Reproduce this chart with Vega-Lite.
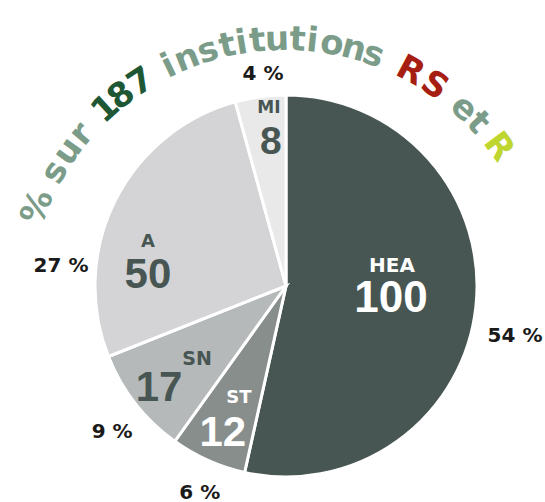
{
  "$schema": "https://vega.github.io/schema/vega-lite/v6.json",
  "width": 518,
  "height": 432,
  "autosize": {"type": "none"},
  "padding": {"left": 27, "top": 70, "right": 0, "bottom": 0},
  "background": "#ffffff",
  "config": {"view": {"stroke": null}},
  "datasets": {
    "slices": [
      {"k": 1, "name": "HEA", "n": 100, "pct": "54 %"},
      {"k": 2, "name": "ST", "n": 12, "pct": "6 %"},
      {"k": 3, "name": "SN", "n": 17, "pct": "9 %"},
      {"k": 4, "name": "A", "n": 50, "pct": "27 %"},
      {"k": 5, "name": "MI", "n": 8, "pct": "4 %"}
    ],
    "title": [
      {"ch": "%", "deg": -68.2, "part": "g"},
      {"ch": "s", "deg": -59.8, "part": "g"},
      {"ch": "u", "deg": -54.5, "part": "g"},
      {"ch": "r", "deg": -49.8, "part": "g"},
      {"ch": "1", "deg": -42.3, "part": "d"},
      {"ch": "8", "deg": -37.9, "part": "d"},
      {"ch": "7", "deg": -32.8, "part": "d"},
      {"ch": "i", "deg": -25.9, "part": "g"},
      {"ch": "n", "deg": -21.6, "part": "g"},
      {"ch": "s", "deg": -16.8, "part": "g"},
      {"ch": "t", "deg": -12.5, "part": "g"},
      {"ch": "i", "deg": -9.4, "part": "g"},
      {"ch": "t", "deg": -5.9, "part": "g"},
      {"ch": "u", "deg": -1.7, "part": "g"},
      {"ch": "t", "deg": 2.7, "part": "g"},
      {"ch": "i", "deg": 5.9, "part": "g"},
      {"ch": "o", "deg": 10.2, "part": "g"},
      {"ch": "n", "deg": 15.0, "part": "g"},
      {"ch": "s", "deg": 19.4, "part": "g"},
      {"ch": "R", "deg": 28.1, "part": "r"},
      {"ch": "S", "deg": 34.1, "part": "r"},
      {"ch": "e", "deg": 42.2, "part": "g"},
      {"ch": "t", "deg": 46.5, "part": "g"},
      {"ch": "R", "deg": 53.3, "part": "y"}
    ]
  },
  "resolve": {"scale": {"theta": "independent", "color": "independent", "angle": "independent"}},
  "layer": [
    {
      "data": {"name": "slices"},
      "mark": {"type": "arc", "outerRadius": 191, "stroke": "#ffffff", "strokeWidth": 3},
      "encoding": {
        "theta": {"field": "n", "type": "quantitative", "stack": true},
        "order": {"field": "k"},
        "color": {"field": "name", "type": "nominal", "legend": null,
          "scale": {"domain": ["HEA", "ST", "SN", "A", "MI"], "range": ["#485653", "#878e8c", "#b5b9ba", "#d4d4d6", "#e9e9e9"]}}
      }
    },
    {
      "data": {"name": "slices"},
      "mark": {"type": "text", "radius": 105, "xOffset": 1.6, "yOffset": -31.5, "font": "DejaVu Sans", "fontWeight": "bold", "fontSize": 20, "color": "#ffffff", "align": "center", "baseline": "middle"},
      "encoding": {"theta": {"field": "n", "type": "quantitative", "stack": true}, "order": {"field": "k"},
        "text": {"condition": {"test": "datum.name === 'HEA'", "field": "name"}, "value": ""}}
    },
    {
      "data": {"name": "slices"},
      "mark": {"type": "text", "radius": 105, "xOffset": 0.6, "yOffset": 1.5, "font": "Liberation Sans Narrow, Liberation Sans, sans-serif", "fontWeight": "bold", "fontSize": 44, "color": "#ffffff", "align": "center", "baseline": "middle"},
      "encoding": {"theta": {"field": "n", "type": "quantitative", "stack": true}, "order": {"field": "k"},
        "text": {"condition": {"test": "datum.name === 'HEA'", "field": "n"}, "value": ""}}
    },
    {
      "data": {"name": "slices"},
      "mark": {"type": "text", "radius": 230, "xOffset": 0.4, "yOffset": 24.8, "font": "DejaVu Sans", "fontWeight": "bold", "fontSize": 20, "color": "#1a1a1a", "align": "center", "baseline": "middle"},
      "encoding": {"theta": {"field": "n", "type": "quantitative", "stack": true}, "order": {"field": "k"},
        "text": {"condition": {"test": "datum.name === 'HEA'", "field": "pct"}, "value": ""}}
    },
    {
      "data": {"name": "slices"},
      "mark": {"type": "text", "radius": 140, "xOffset": 9.9, "yOffset": -15.9, "font": "DejaVu Sans", "fontWeight": "bold", "fontSize": 18, "color": "#ffffff", "align": "center", "baseline": "middle"},
      "encoding": {"theta": {"field": "n", "type": "quantitative", "stack": true}, "order": {"field": "k"},
        "text": {"condition": {"test": "datum.name === 'ST'", "field": "name"}, "value": ""}}
    },
    {
      "data": {"name": "slices"},
      "mark": {"type": "text", "radius": 140, "xOffset": -6.1, "yOffset": 19.1, "font": "Liberation Sans Narrow, Liberation Sans, sans-serif", "fontWeight": "bold", "fontSize": 42, "color": "#ffffff", "align": "center", "baseline": "middle"},
      "encoding": {"theta": {"field": "n", "type": "quantitative", "stack": true}, "order": {"field": "k"},
        "text": {"condition": {"test": "datum.name === 'ST'", "field": "n"}, "value": ""}}
    },
    {
      "data": {"name": "slices"},
      "mark": {"type": "text", "radius": 225, "xOffset": 5.5, "yOffset": 1.5, "font": "DejaVu Sans", "fontWeight": "bold", "fontSize": 20, "color": "#1a1a1a", "align": "center", "baseline": "middle"},
      "encoding": {"theta": {"field": "n", "type": "quantitative", "stack": true}, "order": {"field": "k"},
        "text": {"condition": {"test": "datum.name === 'ST'", "field": "pct"}, "value": ""}}
    },
    {
      "data": {"name": "slices"},
      "mark": {"type": "text", "radius": 140, "xOffset": 21.3, "yOffset": -13.2, "font": "DejaVu Sans", "fontWeight": "bold", "fontSize": 19, "color": "#485653", "align": "center", "baseline": "middle"},
      "encoding": {"theta": {"field": "n", "type": "quantitative", "stack": true}, "order": {"field": "k"},
        "text": {"condition": {"test": "datum.name === 'SN'", "field": "name"}, "value": ""}}
    },
    {
      "data": {"name": "slices"},
      "mark": {"type": "text", "radius": 140, "xOffset": -16.7, "yOffset": 15.8, "font": "Liberation Sans Narrow, Liberation Sans, sans-serif", "fontWeight": "bold", "fontSize": 42, "color": "#485653", "align": "center", "baseline": "middle"},
      "encoding": {"theta": {"field": "n", "type": "quantitative", "stack": true}, "order": {"field": "k"},
        "text": {"condition": {"test": "datum.name === 'SN'", "field": "n"}, "value": ""}}
    },
    {
      "data": {"name": "slices"},
      "mark": {"type": "text", "radius": 228, "xOffset": 5.7, "yOffset": 5.6, "font": "DejaVu Sans", "fontWeight": "bold", "fontSize": 20, "color": "#1a1a1a", "align": "center", "baseline": "middle"},
      "encoding": {"theta": {"field": "n", "type": "quantitative", "stack": true}, "order": {"field": "k"},
        "text": {"condition": {"test": "datum.name === 'SN'", "field": "pct"}, "value": ""}}
    },
    {
      "data": {"name": "slices"},
      "mark": {"type": "text", "radius": 140, "xOffset": -12.7, "yOffset": 18.4, "font": "DejaVu Sans", "fontWeight": "bold", "fontSize": 18, "color": "#485653", "align": "center", "baseline": "middle"},
      "encoding": {"theta": {"field": "n", "type": "quantitative", "stack": true}, "order": {"field": "k"},
        "text": {"condition": {"test": "datum.name === 'A'", "field": "name"}, "value": ""}}
    },
    {
      "data": {"name": "slices"},
      "mark": {"type": "text", "radius": 140, "xOffset": -12.7, "yOffset": 51.4, "font": "Liberation Sans Narrow, Liberation Sans, sans-serif", "fontWeight": "bold", "fontSize": 42, "color": "#485653", "align": "center", "baseline": "middle"},
      "encoding": {"theta": {"field": "n", "type": "quantitative", "stack": true}, "order": {"field": "k"},
        "text": {"condition": {"test": "datum.name === 'A'", "field": "n"}, "value": ""}}
    },
    {
      "data": {"name": "slices"},
      "mark": {"type": "text", "radius": 228, "xOffset": -20.9, "yOffset": 81.6, "font": "DejaVu Sans", "fontWeight": "bold", "fontSize": 20, "color": "#1a1a1a", "align": "center", "baseline": "middle"},
      "encoding": {"theta": {"field": "n", "type": "quantitative", "stack": true}, "order": {"field": "k"},
        "text": {"condition": {"test": "datum.name === 'A'", "field": "pct"}, "value": ""}}
    },
    {
      "data": {"name": "slices"},
      "mark": {"type": "text", "radius": 160, "xOffset": 4.4, "yOffset": -19.4, "font": "DejaVu Sans", "fontWeight": "bold", "fontSize": 17, "color": "#485653", "align": "center", "baseline": "middle"},
      "encoding": {"theta": {"field": "n", "type": "quantitative", "stack": true}, "order": {"field": "k"},
        "text": {"condition": {"test": "datum.name === 'MI'", "field": "name"}, "value": ""}}
    },
    {
      "data": {"name": "slices"},
      "mark": {"type": "text", "radius": 160, "xOffset": 6.4, "yOffset": 14.6, "font": "Liberation Sans Narrow, Liberation Sans, sans-serif", "fontWeight": "bold", "fontSize": 39, "color": "#485653", "align": "center", "baseline": "middle"},
      "encoding": {"theta": {"field": "n", "type": "quantitative", "stack": true}, "order": {"field": "k"},
        "text": {"condition": {"test": "datum.name === 'MI'", "field": "n"}, "value": ""}}
    },
    {
      "data": {"name": "slices"},
      "mark": {"type": "text", "radius": 213, "xOffset": 5.5, "yOffset": -0.9, "font": "DejaVu Sans", "fontWeight": "bold", "fontSize": 20, "color": "#1a1a1a", "align": "center", "baseline": "middle"},
      "encoding": {"theta": {"field": "n", "type": "quantitative", "stack": true}, "order": {"field": "k"},
        "text": {"condition": {"test": "datum.name === 'MI'", "field": "pct"}, "value": ""}}
    },
    {
      "data": {"name": "title"},
      "mark": {"type": "text", "radius": 266, "xOffset": -1, "yOffset": 20, "font": "DejaVu Sans", "fontWeight": "bold", "fontSize": 34, "align": "center", "baseline": "middle"},
      "encoding": {
        "theta": {"field": "deg", "type": "quantitative", "stack": null, "scale": {"domain": [-180, 180], "range": [-3.14159265, 3.14159265]}},
        "angle": {"field": "deg", "type": "quantitative", "scale": {"domain": [-180, 180], "range": [-180, 180]}},
        "text": {"field": "ch"},
        "color": {"field": "part", "type": "nominal", "legend": null,
          "scale": {"domain": ["g", "d", "r", "y"], "range": ["#7b9c88", "#1e5733", "#a61e12", "#bfd530"]}}
      }
    }
  ]
}
